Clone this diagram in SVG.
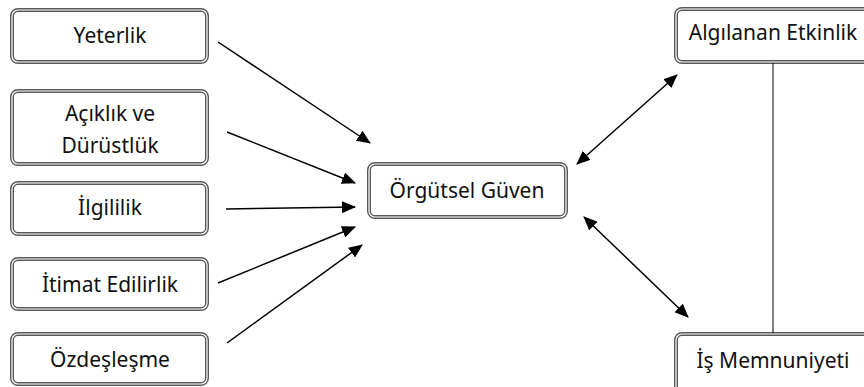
<svg xmlns="http://www.w3.org/2000/svg" width="864" height="387" viewBox="0 0 864 387">
<style>
.o{fill:#fff;stroke:#595959;stroke-width:4}
.i{fill:none;stroke:#fff;stroke-width:1.2}
.t{font-family:"Noto Sans","Open Sans",sans-serif;font-size:21px;fill:#111;text-anchor:middle}
.c{stroke:#000;stroke-width:1.5;fill:none}
</style>
<defs>
<marker id="ah" markerUnits="userSpaceOnUse" markerWidth="14" markerHeight="12" refX="13" refY="6" orient="auto-start-reverse">
<path d="M0,0 L14,6 L0,12 Z" fill="#000"/>
</marker>
</defs>
<rect width="864" height="387" fill="#fff"/>
<g id="yeterlik"><rect class="o" x="12" y="10" width="195" height="52" rx="6"/><rect class="i" x="12" y="10" width="195" height="52" rx="6"/><text class="t" x="110" y="43">Yeterlik</text></g>
<g id="aciklik"><rect class="o" x="12" y="91" width="195" height="73" rx="6"/><rect class="i" x="12" y="91" width="195" height="73" rx="6"/><text class="t" x="110" y="121">Açıklık ve</text><text class="t" x="110" y="153">Dürüstlük</text></g>
<g id="ilgililik"><rect class="o" x="12" y="183" width="195" height="51" rx="6"/><rect class="i" x="12" y="183" width="195" height="51" rx="6"/><text class="t" x="110" y="215">İlgililik</text></g>
<g id="itimat"><rect class="o" x="12" y="259" width="195" height="50" rx="6"/><rect class="i" x="12" y="259" width="195" height="50" rx="6"/><text class="t" x="110" y="292">İtimat Edilirlik</text></g>
<g id="ozdeslesme"><rect class="o" x="12" y="334" width="195" height="50" rx="6"/><rect class="i" x="12" y="334" width="195" height="50" rx="6"/><text class="t" x="110" y="367">Özdeşleşme</text></g>
<g id="orgutsel"><rect class="o" x="369" y="164" width="197" height="53" rx="6"/><rect class="i" x="369" y="164" width="197" height="53" rx="6"/><text class="t" x="467" y="198">Örgütsel Güven</text></g>
<g id="algilanan"><rect class="o" x="676" y="9" width="196" height="53" rx="6"/><rect class="i" x="676" y="9" width="196" height="53" rx="6"/><text class="t" x="773" y="40">Algılanan Etkinlik</text></g>
<g id="is"><rect class="o" x="676" y="334" width="196" height="60" rx="6"/><rect class="i" x="676" y="334" width="196" height="60" rx="6"/><text class="t" x="773" y="368">İş Memnuniyeti</text></g>
<g id="connectors">
<line class="c" x1="218" y1="42" x2="370" y2="143" marker-end="url(#ah)"/>
<line class="c" x1="227" y1="132" x2="355" y2="183" marker-end="url(#ah)"/>
<line class="c" x1="226" y1="209" x2="355" y2="207" marker-end="url(#ah)"/>
<line class="c" x1="218" y1="283" x2="355" y2="227" marker-end="url(#ah)"/>
<line class="c" x1="227" y1="343" x2="362" y2="245" marker-end="url(#ah)"/>
<line class="c" x1="577" y1="164" x2="677" y2="75" marker-start="url(#ah)" marker-end="url(#ah)"/>
<line class="c" x1="584" y1="217" x2="688" y2="317" marker-start="url(#ah)" marker-end="url(#ah)"/>
<line x1="773" y1="63" x2="773" y2="333" stroke="#000" stroke-width="1"/>
</g>
</svg>
